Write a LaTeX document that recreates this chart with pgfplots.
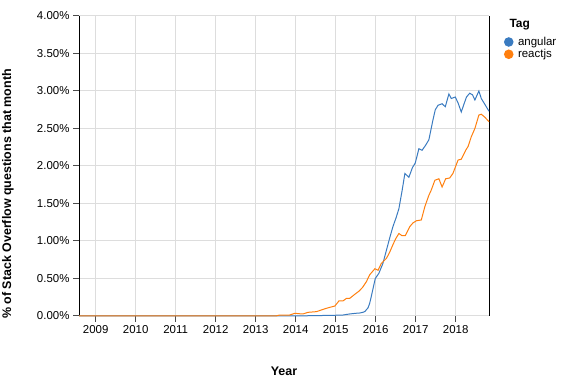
\documentclass[border=0pt]{standalone}
\usepackage{fontspec}
\setmainfont{Liberation Sans}
\usepackage{pgfplots}
\pgfplotsset{compat=1.18}
\definecolor{cangular}{HTML}{3A7BC0}
\definecolor{creact}{HTML}{FF7F0E}
\definecolor{gridgray}{HTML}{DDDDDD}
\begin{document}
\begin{tikzpicture}
\path[use as bounding box] (0,0) rectangle (563bp,388bp);
\draw[black, line width=1bp] (78.5bp,72bp) -- (489.5bp,72bp);
\begin{axis}[
  clip=false,
  at={(79bp,72bp)}, anchor=south west,
  scale only axis, width=410bp, height=300bp,
  xmin=2008.583, xmax=2018.833,
  ymin=0, ymax=4,
  xtick={2009,2010,...,2018},
  ytick={0,0.5,...,4},
  axis x line*=bottom, axis y line*=box,
  x axis line style={draw=none},
  ytick pos=left, xtick pos=bottom,
  tick align=outside,
  major tick length=6bp,
  axis line style={black, line width=1bp},
  every tick/.style={black!70, line width=1bp},
  grid=major,
  major grid style={gridgray, line width=1bp},
  /pgf/number format/assume math mode=true,
  /pgf/number format/1000 sep={},
  tick label style={font=\fontsize{11.5}{13}\selectfont},
  yticklabel={\pgfmathprintnumber[fixed,fixed zerofill,precision=2]{\tick}\%},
  legend style={at={(axis description cs:1.036,0.937)}, anchor=north west,
    draw=none, fill=none, inner sep=0pt, font=\fontsize{11.5}{12}\selectfont,
    row sep=-1.5bp, /tikz/every odd column/.append style={column sep=2.5bp}},
  legend cell align=left,
  legend image code/.code={\fill[#1,draw=none] (4.5bp,0bp) circle (4.8bp);},
]
\addplot[cangular, line width=1bp] coordinates {
(2008.583,0) (2013.9,0) (2014.5,0.005) (2015.0,0.01) (2015.18,0.013) (2015.35,0.027)
(2015.5,0.036) (2015.6,0.04) (2015.68,0.049) (2015.73,0.06) (2015.81,0.11) (2015.85,0.17)
(2015.89,0.26) (2015.94,0.38) (2015.99,0.50) (2016.08,0.57) (2016.18,0.70) (2016.27,0.88)
(2016.35,1.04) (2016.43,1.19) (2016.51,1.31) (2016.58,1.43) (2016.66,1.67) (2016.73,1.90)
(2016.83,1.85) (2016.92,1.98) (2016.99,2.04) (2017.08,2.23) (2017.16,2.21) (2017.24,2.27)
(2017.33,2.35) (2017.43,2.61) (2017.49,2.75) (2017.56,2.81) (2017.66,2.83) (2017.74,2.79)
(2017.83,2.96) (2017.89,2.90) (2017.99,2.92) (2018.06,2.84) (2018.14,2.72) (2018.21,2.83)
(2018.27,2.92) (2018.35,2.97) (2018.42,2.95) (2018.48,2.88) (2018.58,3.00) (2018.64,2.90)
(2018.72,2.83) (2018.81,2.75) (2018.833,2.73)
};
\addlegendentry{angular}
\addplot[creact, line width=1bp] coordinates {
(2008.583,0) (2013.5,0) (2013.6,0.013) (2013.85,0.013) (2013.98,0.036) (2014.1,0.03)
(2014.18,0.027) (2014.31,0.049) (2014.52,0.058) (2014.64,0.08) (2014.75,0.10) (2014.85,0.115)
(2014.98,0.133) (2015.08,0.20) (2015.18,0.20) (2015.27,0.235) (2015.35,0.235) (2015.48,0.29)
(2015.58,0.33) (2015.67,0.38) (2015.77,0.46) (2015.85,0.55) (2015.98,0.63) (2016.06,0.61)
(2016.14,0.70) (2016.27,0.77) (2016.35,0.85) (2016.43,0.95) (2016.5,1.03) (2016.58,1.10)
(2016.66,1.07) (2016.74,1.07) (2016.85,1.19) (2016.93,1.24) (2017.02,1.27) (2017.14,1.28)
(2017.23,1.46) (2017.33,1.61) (2017.39,1.68) (2017.48,1.81) (2017.58,1.83) (2017.66,1.72)
(2017.75,1.83) (2017.85,1.84) (2017.93,1.90) (2018.06,2.08) (2018.14,2.09) (2018.25,2.21)
(2018.31,2.26) (2018.39,2.39) (2018.48,2.50) (2018.58,2.68) (2018.64,2.69) (2018.73,2.65)
(2018.833,2.59)
};
\addlegendentry{reactjs}
\end{axis}
\node[font=\bfseries\fontsize{12}{14}\selectfont, anchor=west] at (506bp,363bp) {Tag};
\node[font=\bfseries\fontsize{12.5}{14}\selectfont, rotate=90] at (8bp,194bp) {\% of Stack Overflow questions that month};
\node[font=\bfseries\fontsize{12.5}{14}\selectfont] at (284bp,17bp) {Year};
\end{tikzpicture}
\end{document}
